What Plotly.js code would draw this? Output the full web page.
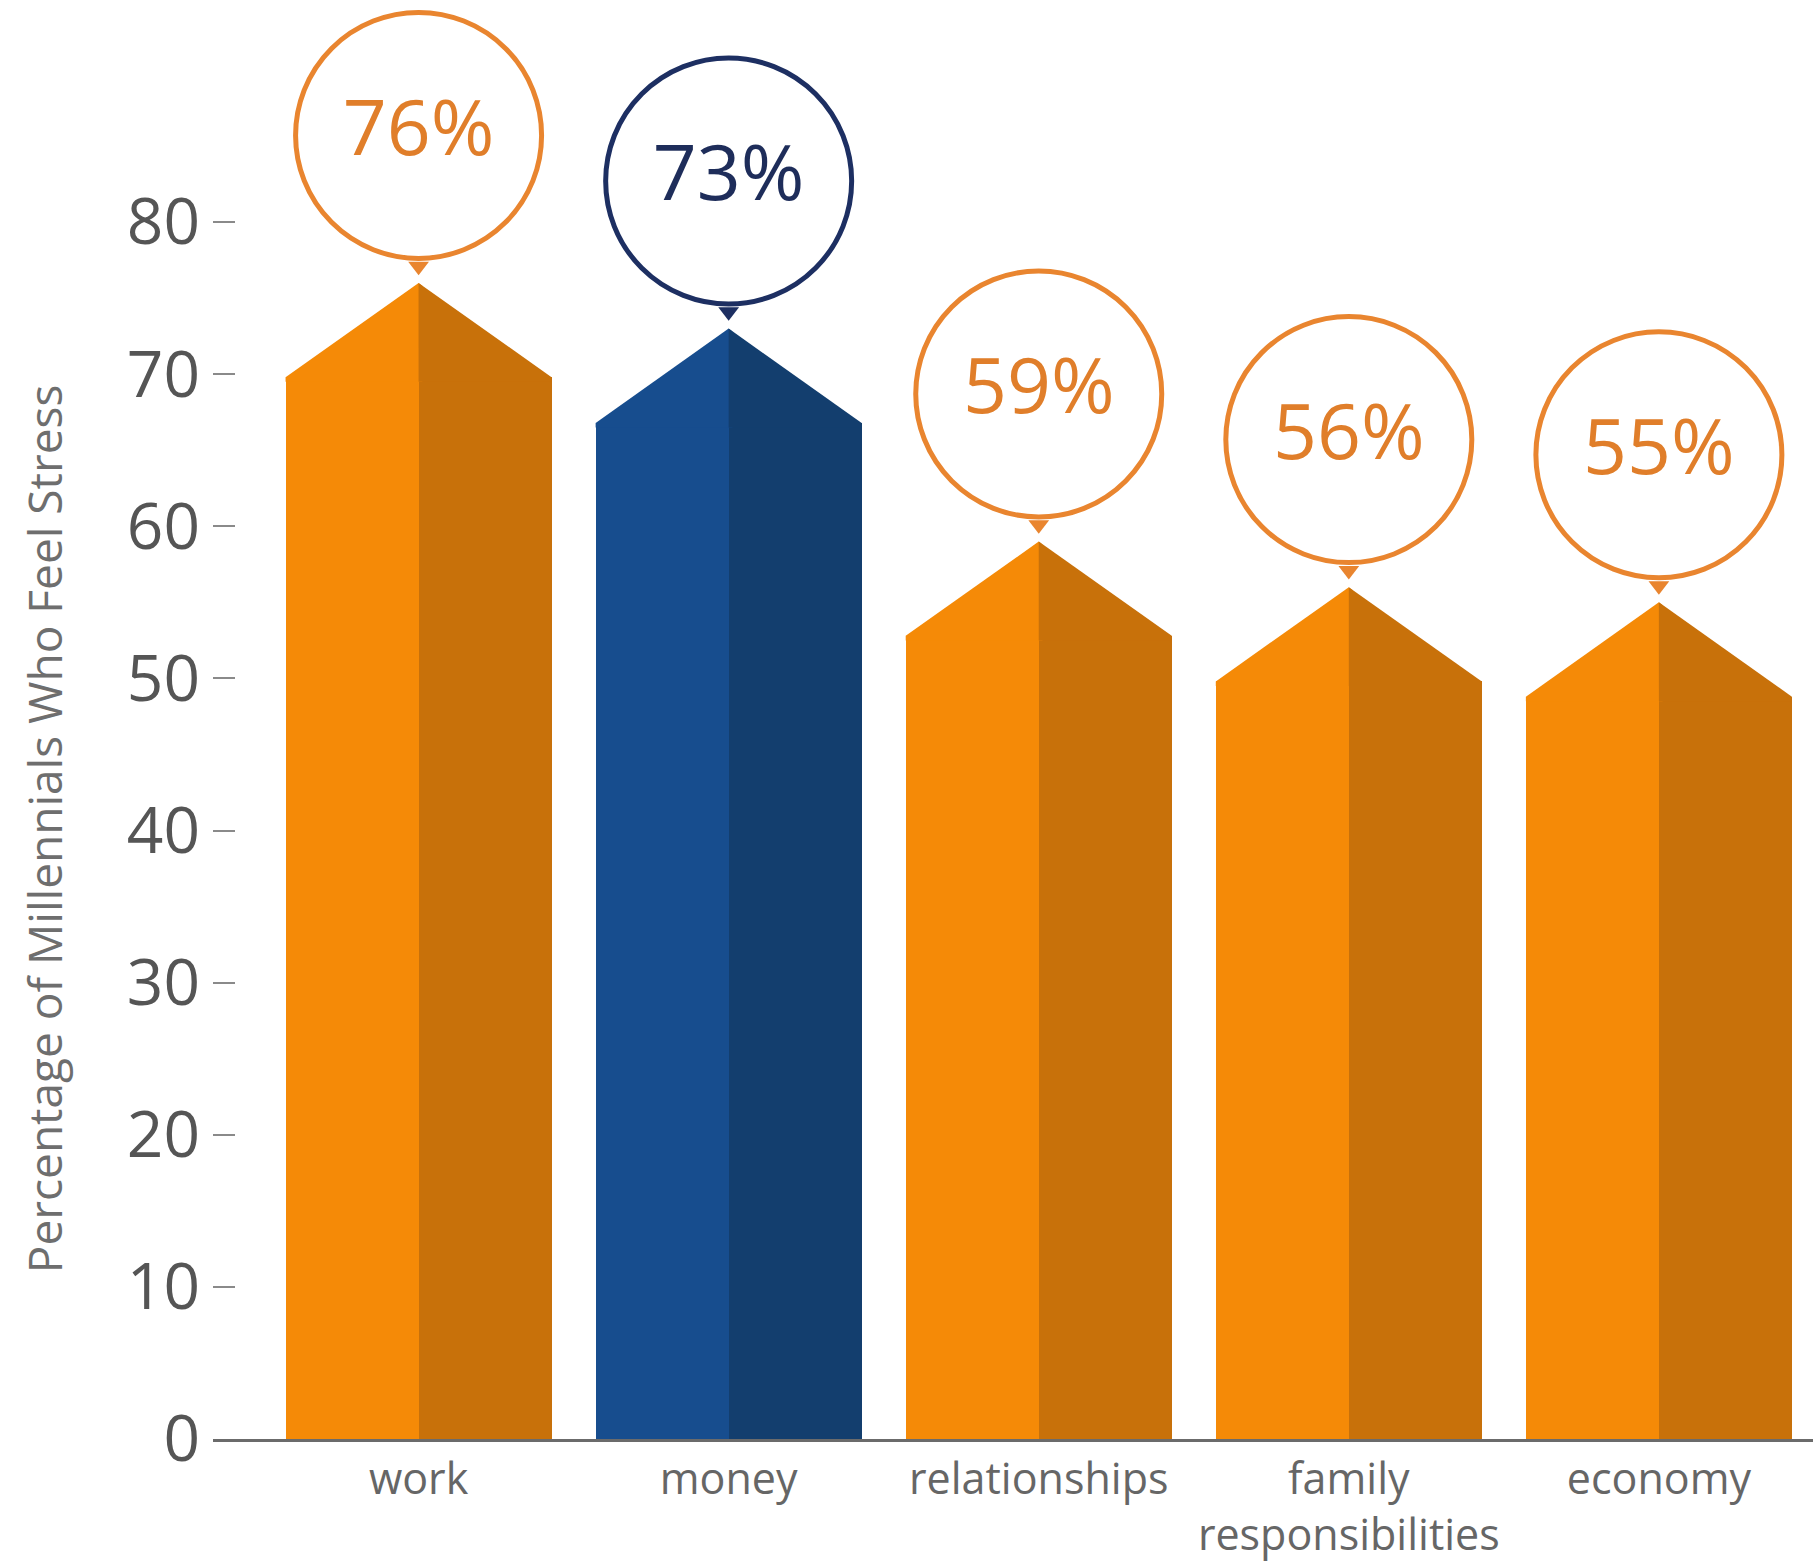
<!DOCTYPE html>
<html>
<head>
<meta charset="utf-8">
<script src="https://cdn.plot.ly/plotly-3.0.1.min.js"></script>
<style>html,body{margin:0;padding:0;background:#fff;}#chart{width:1813px;height:1563px;}</style>
</head>
<body>
<div id="chart"></div>
<script>
// ---- data ----
const categories = ['work', 'money', 'relationships', 'family<br>responsibilities', 'economy'];
const values = [76, 73, 59, 56, 55];
const valueLabels = ['76%', '73%', '59%', '56%', '55%'];
const yTicks = [0, 10, 20, 30, 40, 50, 60, 70, 80];
const yTitle = 'Percentage of Millennials Who Feel Stress';

// ---- style ----
const lightFill = ['#F58A07', '#174D8E', '#F58A07', '#F58A07', '#F58A07'];
const darkFill  = ['#C8710A', '#133E6E', '#C8710A', '#C8710A', '#C8710A'];
const ringColor = ['#E9852F', '#1D2F62', '#E9852F', '#E9852F', '#E9852F'];
const textColor = ['#E07E2A', '#1E2D5A', '#E07E2A', '#E07E2A', '#E07E2A'];
const ROOF = 6.2;      // height of the pointed top, in axis units
const HALF = 0.429;    // half bar width, in category units
const RING_OFF = 9.7;  // circle centre above the tip, axis units
const PTR_OFF = 1.1;   // pointer centre above the tip
const EPS = 0.012;     // hidden overlap to avoid seams

const idx = categories.map((_, i) => i);
const shoulders = values.map(v => v - ROOF);

const traces = [];
traces.push({
  type: 'bar', x: idx, y: shoulders, width: HALF + EPS, offset: -HALF,
  marker: {color: lightFill, line: {width: 0}}, hoverinfo: 'skip', showlegend: false
});
traces.push({
  type: 'bar', x: idx, y: shoulders, width: HALF, offset: 0,
  marker: {color: darkFill, line: {width: 0}}, hoverinfo: 'skip', showlegend: false
});
idx.forEach(i => {
  const v = values[i], sh = shoulders[i], s = sh - 0.3;
  const slope = ROOF / HALF;
  traces.push({
    type: 'scatter', mode: 'lines', fill: 'toself', fillcolor: lightFill[i],
    x: [i - HALF, i, i + EPS, i + EPS, i - HALF, i - HALF],
    y: [sh, v, v - slope * EPS * 1.1, s, s, sh],
    line: {width: 0, color: lightFill[i]}, hoverinfo: 'skip', showlegend: false
  });
  traces.push({
    type: 'scatter', mode: 'lines', fill: 'toself', fillcolor: darkFill[i],
    x: [i, i + HALF, i + HALF, i, i], y: [v, sh, s, s, v],
    line: {width: 0, color: darkFill[i]}, hoverinfo: 'skip', showlegend: false
  });
});
// pointers
traces.push({
  type: 'scatter', mode: 'markers', x: idx, y: values.map(v => v + PTR_OFF),
  marker: {symbol: 'triangle-down', size: 18, color: ringColor, line: {width: 0}},
  cliponaxis: false, hoverinfo: 'skip', showlegend: false
});
// rings with labels
traces.push({
  type: 'scatter', mode: 'markers+text', x: idx, y: values.map(v => v + RING_OFF),
  text: valueLabels, textposition: 'middle center',
  textfont: {family: 'Open Sans, sans-serif', size: 77, color: textColor},
  marker: {symbol: 'circle', size: 246, color: '#ffffff', line: {width: 5, color: ringColor}},
  cliponaxis: false, hoverinfo: 'skip', showlegend: false
});

const layout = {
  width: 1813, height: 1563,
  margin: {l: 213, r: 0, t: 0, b: 124},
  paper_bgcolor: '#ffffff', plot_bgcolor: '#ffffff',
  font: {family: 'Open Sans, sans-serif', color: '#555'},
  bargap: 0, barmode: 'overlay',
  xaxis: {
    range: [-0.663, 4.497], tickvals: idx, ticktext: categories,
    showline: true, linecolor: '#6b6b6b', linewidth: 3,
    showgrid: false, zeroline: false, ticks: '',
    tickfont: {size: 43, color: '#666666'}, ticklabelstandoff: 0, fixedrange: true
  },
  yaxis: {
    range: [0, 94.6], tickvals: yTicks,
    ticks: 'inside', ticklen: 22, tickwidth: 2, tickcolor: '#8a8a8a',
    showline: false, showgrid: false, zeroline: false,
    tickfont: {size: 64, color: '#555555'}, ticklabelstandoff: 12, fixedrange: true
  },
  annotations: [{
    text: yTitle, textangle: -90, xref: 'paper', yref: 'paper',
    x: -0.106, y: 0.424, xanchor: 'center', yanchor: 'middle', showarrow: false,
    font: {size: 46, color: '#6e6e6e'}
  }]
};

Plotly.newPlot('chart', traces, layout, {staticPlot: true, displayModeBar: false});
</script>
</body>
</html>
